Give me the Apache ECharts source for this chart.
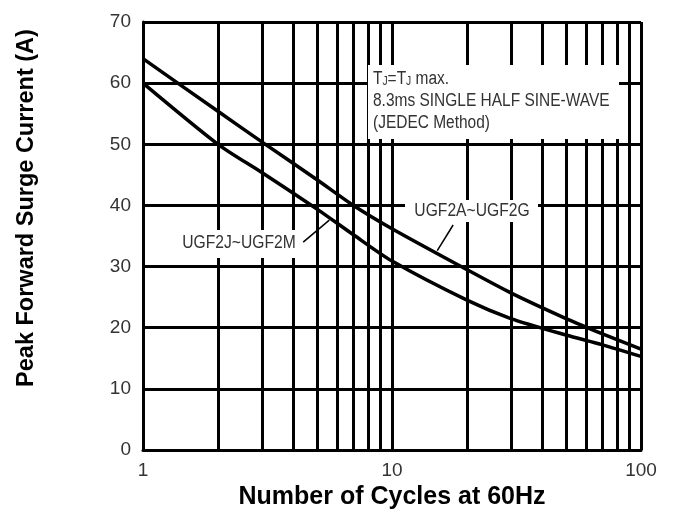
<!DOCTYPE html>
<html>
<head>
<meta charset="utf-8">
<script src="https://cdn.jsdelivr.net/npm/echarts@6/dist/echarts.min.js"></script>
<style>
  html, body { margin: 0; padding: 0; background: #fff; }
  #chart { width: 675px; height: 511px; }
</style>
</head>
<body>
<div id="chart"></div>
<script>
var cycles = [1, 2, 3, 5, 7, 10, 20, 30, 50, 70, 100];
var ugf2AtoG = [64, 55.4, 50.4, 44.2, 40, 36.2, 29.5, 25.7, 21.5, 19, 16.5];
var ugf2JtoM = [60, 50, 45.4, 39.4, 35.2, 30.9, 24.5, 21.5, 18.8, 17.2, 15.3];
var minorCycles = [2, 3, 4, 5, 6, 7, 8, 9, 20, 30, 40, 50, 60, 70, 80, 90];

// arrow ends for the curve labels [cycles, amps]
var arrowAtoG = [[17.6, 36.8], [15.2, 32.6]];
var arrowJtoM = [[4.4, 34.0], [5.6, 37.6]];

var FONT = 'Liberation Sans, Arial, sans-serif';
var TXT = '#333';

var chart = echarts.init(document.getElementById('chart'), null, { renderer: 'canvas' });

var pairs = function (ys) {
    return cycles.map(function (c, i) { return [c, ys[i]]; });
};

var arrow = function (pts) {
    return [{ coord: pts[0] }, { coord: pts[1] }];
};

var arrowMark = function (pts) {
    return {
        silent: true,
        animation: false,
        symbol: ['none', 'arrow'],
        symbolSize: [0, 9],
        label: { show: false },
        lineStyle: { color: '#000', width: 1.5, type: 'solid' },
        data: [arrow(pts)]
    };
};

var option = {
    animation: false,
    backgroundColor: '#fff',
    grid: {
        left: 143,
        right: 34,
        top: 22,
        bottom: 61,
        containLabel: false,
        outerBoundsMode: 'none'
    },
    xAxis: {
        type: 'log',
        logBase: 10,
        min: 1,
        max: 100,
        name: 'Number of Cycles at 60Hz',
        nameLocation: 'middle',
        nameGap: 34,
        nameTextStyle: { fontFamily: FONT, fontWeight: 'bold', fontSize: 25, color: '#000' },
        axisLine: { show: true, lineStyle: { color: '#000', width: 3 } },
        axisTick: { show: false },
        axisLabel: { fontFamily: FONT, fontSize: 19, color: TXT, margin: 11 },
        splitLine: { show: true, lineStyle: { color: '#000', width: 3 } }
    },
    yAxis: {
        type: 'value',
        min: 0,
        max: 70,
        interval: 10,
        axisLine: { show: true, lineStyle: { color: '#000', width: 3 } },
        axisTick: { show: false },
        axisLabel: { fontFamily: FONT, fontSize: 19, color: TXT, margin: 12 },
        splitLine: { show: true, lineStyle: { color: '#000', width: 3 } }
    },
    series: [
        {
            // minor log grid lines
            name: 'grid',
            type: 'line',
            data: [],
            z: 1,
            markLine: {
                silent: true,
                animation: false,
                symbol: ['none', 'none'],
                label: { show: false },
                lineStyle: { color: '#000', width: 3, type: 'solid' },
                data: minorCycles.map(function (v) { return { xAxis: v }; })
            }
        },
        {
            name: 'UGF2A~UGF2G',
            type: 'line',
            data: pairs(ugf2AtoG),
            smooth: 0.25,
            showSymbol: false,
            z: 3,
            lineStyle: { color: '#000', width: 3.5 },
            markLine: arrowMark(arrowAtoG)
        },
        {
            name: 'UGF2J~UGF2M',
            type: 'line',
            data: pairs(ugf2JtoM),
            smooth: 0.25,
            showSymbol: false,
            z: 3,
            lineStyle: { color: '#000', width: 3.5 },
            markLine: arrowMark(arrowJtoM)
        }
    ],
    graphic: [
        // y axis title
        {
            type: 'text',
            x: 27,
            y: 208,
            rotation: Math.PI / 2,
            z: 100,
            style: {
                text: 'Peak Forward Surge Current (A)',
                font: 'bold 23.5px ' + FONT,
                fill: '#000',
                align: 'center',
                verticalAlign: 'middle'
            }
        },
        // condition box
        {
            type: 'rect',
            z: 100,
            shape: { x: 368, y: 65, width: 251, height: 74 },
            style: { fill: '#fff' }
        },
        {
            type: 'text',
            x: 373,
            y: 79,
            scaleX: 0.86,
            z: 101,
            style: {
                text: 'T{s|J}=T{s|J} max.',
                font: '18px ' + FONT,
                fill: TXT,
                verticalAlign: 'middle',
                rich: { s: { fontSize: 12, fontFamily: FONT, fill: TXT, padding: [5, 0, 0, 0] } }
            }
        },
        {
            type: 'text',
            x: 373,
            y: 101,
            scaleX: 0.86,
            z: 101,
            style: { text: '8.3ms SINGLE HALF SINE-WAVE', font: '18px ' + FONT, fill: TXT, verticalAlign: 'middle' }
        },
        {
            type: 'text',
            x: 373,
            y: 123,
            scaleX: 0.86,
            z: 101,
            style: { text: '(JEDEC Method)', font: '18px ' + FONT, fill: TXT, verticalAlign: 'middle' }
        },
        // curve labels
        {
            type: 'rect',
            z: 100,
            shape: { x: 405, y: 200, width: 133, height: 22 },
            style: { fill: '#fff' }
        },
        {
            type: 'text',
            x: 472,
            y: 211,
            scaleX: 0.87,
            z: 101,
            style: { text: 'UGF2A~UGF2G', font: '18px ' + FONT, fill: TXT, align: 'center', verticalAlign: 'middle' }
        },
        {
            type: 'rect',
            z: 100,
            shape: { x: 176, y: 230, width: 124, height: 28 },
            style: { fill: '#fff' }
        },
        {
            type: 'text',
            x: 239,
            y: 243,
            scaleX: 0.87,
            z: 101,
            style: { text: 'UGF2J~UGF2M', font: '18px ' + FONT, fill: TXT, align: 'center', verticalAlign: 'middle' }
        }
    ]
};

chart.setOption(option);
window.addEventListener('resize', chart.resize);
</script>
</body>
</html>
